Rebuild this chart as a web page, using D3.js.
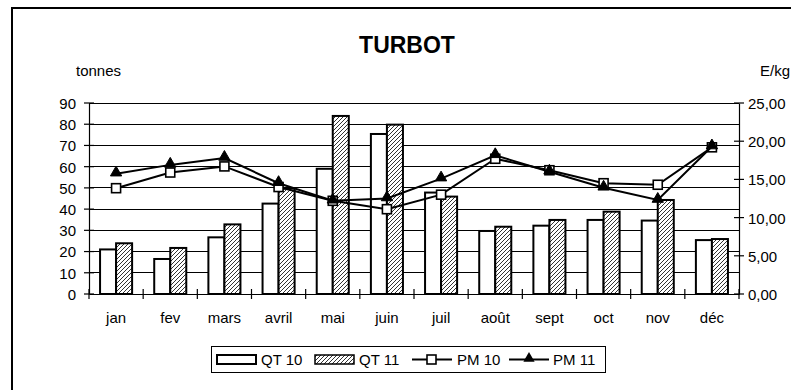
<!DOCTYPE html>
<html>
<head>
<meta charset="utf-8">
<script src="https://cdn.jsdelivr.net/npm/d3@7"></script>
<style>
  html, body { margin: 0; padding: 0; background: #fff; }
  svg { display: block; font-family: "Liberation Sans", Arial, sans-serif; }
</style>
</head>
<body>
<svg id="chart" width="791" height="390"></svg>
<script>
// Monthly landings (tonnes) and mean price (E/kg), 2010 vs 2011
const months = ["jan", "fev", "mars", "avril", "mai", "juin", "juil", "août", "sept", "oct", "nov", "déc"];
const qt10 = [21, 16.5, 26.7, 42.6, 59, 75.4, 47.8, 29.7, 32.2, 34.9, 34.6, 25.4];
const qt11 = [23.9, 21.7, 32.8, 49.7, 83.9, 79.8, 45.9, 31.7, 34.9, 38.8, 44.3, 25.9];
const pm10 = [13.85, 15.9, 16.7, 14.0, 12.2, 11.1, 13.0, 17.7, 16.2, 14.5, 14.3, 19.2];
const pm11 = [15.75, 16.9, 17.8, 14.5, 12.2, 12.5, 15.1, 18.15, 16.0, 13.9, 12.3, 19.3];
const leftTicks = [0, 10, 20, 30, 40, 50, 60, 70, 80, 90];
const rightTicks = [0, 5, 10, 15, 20, 25];
const legendLabels = ["QT 10", "QT 11", "PM 10", "PM 11"];

const svg = d3.select("#chart");
const FONT = 15;

// hatch pattern for the 2011 quantity bars
const defs = svg.append("defs");
const pat = defs.append("pattern")
  .attr("id", "hatch").attr("patternUnits", "userSpaceOnUse")
  .attr("width", 4).attr("height", 4);
pat.append("rect").attr("width", 4).attr("height", 4).attr("fill", "#fff");
pat.append("path").attr("d", "M-1,1 l2,-2 M0,4 l4,-4 M3,5 l2,-2")
  .attr("stroke", "#333").attr("stroke-width", 1);

// outer chart frame
svg.append("rect").attr("x", 12).attr("y", 8).attr("width", 800).attr("height", 400)
  .attr("fill", "none").attr("stroke", "#000").attr("stroke-width", 2);

const plot = { left: 89, right: 739, top: 103, bottom: 294 };

const x = d3.scaleBand().domain(months).range([plot.left, plot.right]).padding(0);
const xs = d3.scaleBand().domain(["qt10", "qt11"]).range([0, x.bandwidth()]).paddingInner(0).paddingOuter(0.69);
const yL = d3.scaleLinear().domain([0, 90]).range([plot.bottom, plot.top]);
const yR = d3.scaleLinear().domain([0, 25]).range([plot.bottom, plot.top]);

// gridlines
svg.append("g").selectAll("line").data(leftTicks.filter(d => d > 0)).join("line")
  .attr("x1", plot.left).attr("x2", plot.right)
  .attr("y1", d => yL(d)).attr("y2", d => yL(d))
  .attr("stroke", "#000").attr("stroke-width", 1).attr("shape-rendering", "crispEdges");

// bars
const bars = svg.append("g");
const series = [{ key: "qt10", vals: qt10, fill: "#fff" }, { key: "qt11", vals: qt11, fill: "url(#hatch)" }];
series.forEach(s => {
  bars.append("g").selectAll("rect").data(s.vals).join("rect")
    .attr("x", (d, i) => x(months[i]) + xs(s.key))
    .attr("width", xs.bandwidth())
    .attr("y", d => yL(d))
    .attr("height", d => yL(0) - yL(d))
    .attr("fill", s.fill).attr("stroke", "#000").attr("stroke-width", 2);
});

// axes
const axL = svg.append("g").attr("transform", `translate(${plot.left},0)`)
  .call(d3.axisLeft(yL).tickValues(leftTicks).tickSize(0).tickPadding(13).tickFormat(d3.format("d")));
const axR = svg.append("g").attr("transform", `translate(${plot.right},0)`)
  .call(d3.axisRight(yR).tickValues(rightTicks).tickSize(0).tickPadding(9)
    .tickFormat(d => d3.format(".2f")(d).replace(".", ",")));
const axB = svg.append("g").attr("transform", `translate(0,${plot.bottom})`)
  .call(d3.axisBottom(x).tickSize(0).tickPadding(18));
[axL, axR, axB].forEach(a => {
  a.select(".domain").attr("stroke", "#000").attr("stroke-width", 1.2);
  a.selectAll("text").attr("font-size", FONT).attr("fill", "#000")
    .attr("font-family", "'Liberation Sans', Arial, sans-serif");
});
axL.selectAll(".tick text").attr("dy", "0.36em");
axR.selectAll(".tick text").attr("dy", "0.36em");

// cross tick marks
const tickG = svg.append("g").attr("stroke", "#000").attr("stroke-width", 1.2);
tickG.selectAll(".tl").data(leftTicks).join("line")
  .attr("x1", plot.left - 5).attr("x2", plot.left + 5)
  .attr("y1", d => yL(d)).attr("y2", d => yL(d));
tickG.selectAll(".tr").data(rightTicks).join("line")
  .attr("x1", plot.right - 5).attr("x2", plot.right + 5)
  .attr("y1", d => yR(d)).attr("y2", d => yR(d));
tickG.selectAll(".tb").data(months.map(m => x(m)).concat([plot.right])).join("line")
  .attr("x1", d => d).attr("x2", d => d)
  .attr("y1", plot.bottom - 5).attr("y2", plot.bottom + 5);

// price lines
const cx = i => x(months[i]) + x.bandwidth() / 2;
const line = d3.line().x((d, i) => cx(i)).y(d => yR(d));
const tri = d3.symbol().type(d3.symbolTriangle).size(55);

svg.append("path").datum(pm10).attr("d", line).attr("fill", "none")
  .attr("stroke", "#000").attr("stroke-width", 2);
svg.append("g").selectAll("rect").data(pm10).join("rect")
  .attr("x", (d, i) => cx(i) - 4.5).attr("y", d => yR(d) - 4.5)
  .attr("width", 9).attr("height", 9)
  .attr("fill", "#fff").attr("stroke", "#000").attr("stroke-width", 1.6);

svg.append("path").datum(pm11).attr("d", line).attr("fill", "none")
  .attr("stroke", "#000").attr("stroke-width", 2);
svg.append("g").selectAll("path").data(pm11).join("path")
  .attr("d", tri)
  .attr("transform", (d, i) => `translate(${cx(i)},${yR(d) - 1})`)
  .attr("fill", "#000").attr("stroke", "#000").attr("stroke-width", 1);

// titles
svg.append("text").attr("x", 407).attr("y", 53).attr("text-anchor", "middle")
  .attr("font-size", 23).attr("font-weight", "bold").text("TURBOT");
svg.append("text").attr("x", 76).attr("y", 76).attr("font-size", FONT).text("tonnes");
svg.append("text").attr("x", 760).attr("y", 76).attr("font-size", FONT).text("E/kg");

// legend
const lg = svg.append("g");
lg.append("rect").attr("x", 211.5).attr("y", 346.5).attr("width", 394).attr("height", 26)
  .attr("fill", "#fff").attr("stroke", "#000").attr("stroke-width", 1);
const ly = 359.5;
lg.append("rect").attr("x", 217).attr("y", 355).attr("width", 39).attr("height", 9)
  .attr("fill", "#fff").attr("stroke", "#000").attr("stroke-width", 2);
lg.append("rect").attr("x", 315).attr("y", 355).attr("width", 39).attr("height", 9)
  .attr("fill", "url(#hatch)").attr("stroke", "#000").attr("stroke-width", 1.5);
lg.append("line").attr("x1", 412).attr("x2", 452).attr("y1", ly).attr("y2", ly)
  .attr("stroke", "#000").attr("stroke-width", 2);
lg.append("rect").attr("x", 427).attr("y", ly - 4.5).attr("width", 9).attr("height", 9)
  .attr("fill", "#fff").attr("stroke", "#000").attr("stroke-width", 1.6);
lg.append("line").attr("x1", 509).attr("x2", 549).attr("y1", ly).attr("y2", ly)
  .attr("stroke", "#000").attr("stroke-width", 2);
lg.append("path").attr("d", tri).attr("transform", `translate(529,${ly - 1})`)
  .attr("fill", "#000");
const lx = [261, 359, 457, 553];
lg.selectAll("text.lt").data(legendLabels).join("text")
  .attr("x", (d, i) => lx[i]).attr("y", ly).attr("dy", "0.36em")
  .attr("font-size", FONT).text(d => d);
</script>
</body>
</html>
